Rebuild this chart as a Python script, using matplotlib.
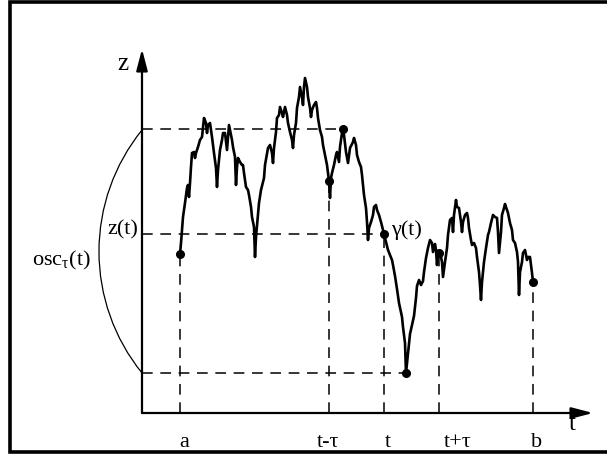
import numpy as np
import matplotlib.pyplot as plt
from matplotlib.patches import Arc

plt.rcParams['font.family'] = ['Liberation Serif', 'DejaVu Serif']
plt.rcParams['mathtext.fontset'] = 'custom'
plt.rcParams['mathtext.rm'] = 'Liberation Serif'
plt.rcParams['mathtext.it'] = 'Liberation Serif'

# curve: (t, z), 1 unit = 1 px from the origin
curve = [
    (38, 159), (39, 170), (41, 196), (43, 210), (45, 225), (46, 228), (47, 216), (48, 230), (49, 246), (50, 260),
    (52, 261), (53, 255), (54, 260), (56, 266), (58, 273), (60, 276), (61, 285), (62, 295), (64, 290), (65, 280),
    (66, 288), (68, 290), (69, 283), (70, 276), (72, 260), (74, 245), (75, 226), (76, 243), (78, 263), (80, 273),
    (81, 280), (83, 280), (85, 263), (86, 276), (87, 288), (88, 283), (90, 273), (91, 266), (93, 256), (94, 228),
    (95, 246), (96, 255), (98, 251), (100, 248), (101, 248), (102, 240), (104, 226), (106, 223), (107, 218), (109, 206),
    (110, 196), (112, 186), (113, 156), (114, 176), (116, 198), (117, 210), (119, 223), (120, 227), (122, 235), (123, 248),
    (125, 259), (126, 265), (128, 268), (130, 260), (131, 250), (132, 265), (134, 281), (135, 295), (137, 298), (138, 306),
    (140, 300), (141, 296), (143, 306), (145, 298), (146, 290), (148, 281), (150, 273), (151, 265), (152, 278), (154, 290),
    (155, 305), (157, 316), (158, 326), (160, 316), (161, 308), (162, 326), (163, 335), (165, 326), (166, 316), (168, 305),
    (169, 296), (170, 303), (172, 308), (174, 311), (175, 305), (176, 295), (178, 283), (180, 276), (181, 268), (183, 258),
    (185, 248), (187, 232), (188, 215), (189, 235), (190, 240), (192, 248), (194, 258), (195, 261), (197, 251), (198, 266),
    (200, 280), (201, 284), (202, 278), (204, 261), (206, 250), (208, 265), (211, 271), (212, 275), (214, 268), (215, 258),
    (217, 251), (219, 246), (220, 238), (221, 228), (222, 218), (224, 205), (225, 191), (226, 173), (227, 185), (229, 191),
    (231, 198), (232, 206), (234, 208), (235, 203), (237, 198), (239, 191), (241, 183), (242, 179), (244, 171), (246, 163),
    (248, 158), (250, 153), (251, 148), (253, 137), (255, 124), (257, 110), (260, 96), (261, 86), (263, 70), (264, 40),
    (266, 59), (268, 79), (270, 88), (272, 97), (274, 115), (275, 127), (277, 133), (279, 128), (281, 132), (282, 141),
    (284, 155), (286, 165), (288, 173), (290, 170), (291, 161), (293, 169), (294, 163), (295, 148), (296, 160), (297, 160),
    (299, 156), (300, 151), (301, 136), (303, 151), (305, 165), (306, 178), (308, 193), (310, 195), (311, 181), (312, 198),
    (314, 213), (315, 206), (317, 205), (319, 191), (320, 181), (321, 191), (323, 198), (325, 200), (326, 195), (327, 185),
    (329, 173), (330, 168), (332, 170), (334, 165), (335, 156), (337, 141), (338, 128), (339, 113), (340, 131), (342, 151),
    (344, 165), (346, 178), (347, 181), (349, 190), (351, 198), (353, 196), (355, 195), (356, 181), (357, 160), (359, 181),
    (360, 198), (362, 205), (363, 209), (365, 203), (366, 200), (368, 190), (370, 183), (371, 173), (373, 170), (375, 161),
    (376, 151), (377, 118), (378, 141), (380, 151), (381, 160), (383, 163), (385, 153), (386, 156), (388, 156), (389, 148),
    (390, 140), (391, 131),
]
t_curve, z_curve = np.array(curve, dtype=float).T

tick_t = [38, 187, 242, 297, 391]          # a, t-tau, t, t+tau, b
tick_labels = ['a', 't-τ', 't', 't+τ', 'b']
label_t = [42, 186, 246, 316, 395]

fig = plt.figure(figsize=(6.07, 4.54), dpi=100)
ax = fig.add_axes([0, 0, 1, 1])
ax.set_xlim(-142, 465)
ax.set_ylim(-41, 413)
ax.axis('off')

# scanned frame: left, top and bottom edges only
fx0, fy0, fy1 = 10 / 607, 2 / 454, 452 / 454
ax.plot([1.0, fx0, fx0, 1.0], [fy1, fy1, fy0, fy0], color='black', lw=2.6,
        transform=ax.transAxes, clip_on=False, solid_joinstyle='miter')

# axes with arrows
arrow = dict(arrowstyle='-|>,head_length=0.65,head_width=0.17', lw=1.6, color='black',
             mutation_scale=20, shrinkA=0, shrinkB=0)
ax.annotate('', xy=(451, 0), xytext=(0, 0), arrowprops=arrow)
ax.annotate('', xy=(0, 364), xytext=(0, 0), arrowprops=arrow)
ax.text(430, -17, 't', fontsize=18, ha='center', va='baseline')
ax.text(-19, 343, 'z', fontsize=18, ha='center', va='baseline')

# the curve
ax.plot(t_curve, z_curve, color='black', lw=1.9, solid_joinstyle='round')

# window max / min
i_t = int(np.argmin(np.abs(t_curve - tick_t[2])))
win = (t_curve >= tick_t[1]) & (t_curve <= tick_t[3])
i_max = np.where(win)[0][np.argmax(z_curve[win])]
i_min = np.where(win)[0][np.argmin(z_curve[win])]

dash = dict(color='black', lw=1.1, linestyle=(0, (7, 5)))
for idx in (i_max, i_t, i_min):
    ax.plot([0, t_curve[idx]], [z_curve[idx], z_curve[idx]], **dash)
tick_z = np.interp(tick_t, t_curve, z_curve)
for tt, zz in zip(tick_t, tick_z):
    ax.plot([tt, tt], [0, zz], **dash)

dots_t = list(tick_t) + [t_curve[i_max], t_curve[i_min]]
dots_z = list(tick_z) + [z_curve[i_max], z_curve[i_min]]
ax.plot(dots_t, dots_z, 'o', color='black', ms=5.5)

for lt, lab in zip(label_t, tick_labels):
    ax.text(lt, -34, lab, fontsize=16, ha='center', va='baseline')

ax.text(-4, 179, 'z(t)', fontsize=16, ha='right', va='baseline')
ax.text(249, 178, 'γ(t)', fontsize=16, ha='left', va='baseline')
ax.text(-51, 148, r'osc$_{\tau}$(t)', fontsize=16, ha='right', va='baseline')

# arc spanning the oscillation
ax.add_patch(Arc((150, 161.5), 386, 386, theta1=141, theta2=219, color='black', lw=0.9))

fig.savefig('out.png', dpi=100)
